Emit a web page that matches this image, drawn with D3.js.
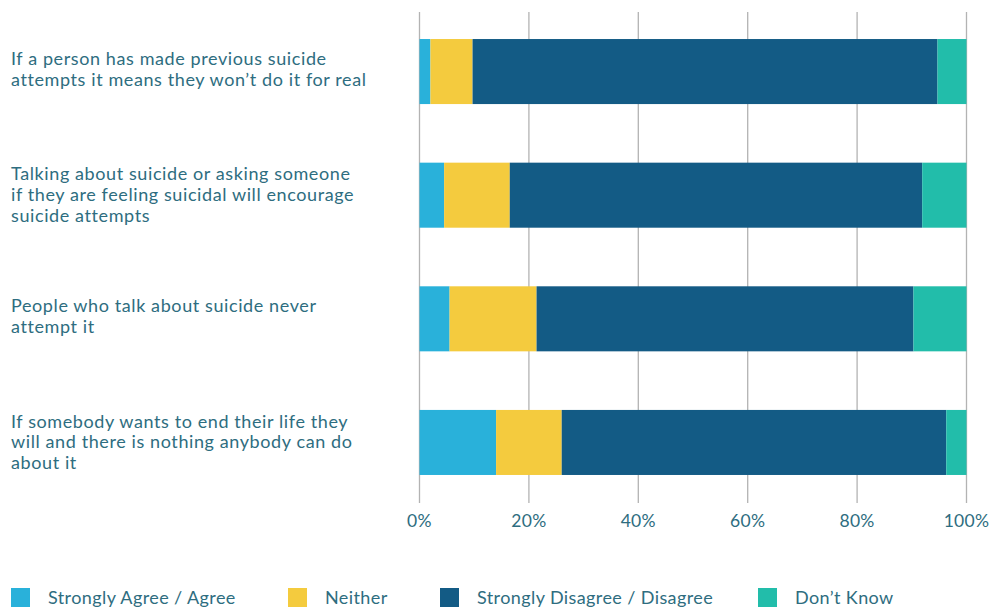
<!DOCTYPE html>
<meta charset='utf-8'>
<head>
    <title>Suicide myths</title>
    <script src='https://cdn.jsdelivr.net/npm/d3@7/dist/d3.min.js'></script>
</head>

<style>
    body { margin: 0; background: white; }
    text { font-family: Lato, 'Open Sans', sans-serif; fill: #2e6d80; }
    .grid line { stroke: #b3b3b3; stroke-width: 1.3px; }
</style>

<svg></svg>

<script>
    var vWidth = 999;
    var vHeight = 608;

    // Data
    var vCategories = [
        ['If a person has made previous suicide', 'attempts it means they won\u2019t do it for real'],
        ['Talking about suicide or asking someone', 'if they are feeling suicidal will encourage', 'suicide attempts'],
        ['People who talk about suicide never', 'attempt it'],
        ['If somebody wants to end their life they', 'will and there is nothing anybody can do', 'about it']
    ];
    var vSeries = ['Strongly Agree / Agree', 'Neither', 'Strongly Disagree / Disagree', 'Don\u2019t Know'];
    var vAgree = [2.0, 4.5, 5.5, 14.0];
    var vNeither = [7.7, 12.0, 15.9, 12.0];
    var vDisagree = [85.0, 75.4, 68.9, 70.3];
    var vDontKnow = [5.3, 8.1, 9.7, 3.7];
    var vTicks = [0, 20, 40, 60, 80, 100];
    var vColors = ['#29b1da', '#f4cb3e', '#135b85', '#22bdaa'];

    var svg = d3.select('svg').attr('width', vWidth).attr('height', vHeight);

    var x = d3.scaleLinear().domain([0, 100]).range([419.5, 966.5]);
    var y = d3.scaleBand().domain(d3.range(vCategories.length)).range([14.3, 499.7]).paddingInner(0.474).paddingOuter(0.2);

    // Rows for stacking
    var vRows = vCategories.map(function (c, i) {
        return { i: i, s0: vAgree[i], s1: vNeither[i], s2: vDisagree[i], s3: vDontKnow[i] };
    });
    var vStack = d3.stack().keys(['s0', 's1', 's2', 's3'])(vRows);

    // Gridlines
    svg.append('g').attr('class', 'grid')
        .selectAll('line').data(vTicks).enter().append('line')
        .attr('x1', function (d) { return x(d); })
        .attr('x2', function (d) { return x(d); })
        .attr('y1', 12).attr('y2', 503);

    // Bars
    svg.append('g').selectAll('g').data(vStack).enter().append('g')
        .attr('fill', function (d, k) { return vColors[k]; })
        .selectAll('rect').data(function (d) { return d; }).enter().append('rect')
        .attr('x', function (d) { return x(d[0]); })
        .attr('width', function (d) { return x(d[1]) - x(d[0]); })
        .attr('y', function (d) { return y(d.data.i); })
        .attr('height', y.bandwidth());

    // Tick labels
    svg.append('g').selectAll('text').data(vTicks).enter().append('text')
        .attr('x', function (d) { return x(d); })
        .attr('y', 527)
        .attr('text-anchor', 'middle')
        .style('font-size', '17.5px')
        .style('letter-spacing', '0.3px')
        .text(function (d) { return d + '%'; });

    // Category labels
    var lineH = 20.8;
    svg.append('g').selectAll('text').data(vCategories).enter().append('text')
        .style('font-size', '18px')
        .style('letter-spacing', '0.6px')
        .attr('transform', function (d, i) {
            var cy = y(i) + y.bandwidth() / 2 - (d.length - 1) * lineH / 2 - (d.length === 2 ? 2 : 0);
            return 'translate(11,' + (cy + 6) + ')';
        })
        .selectAll('tspan').data(function (d) { return d; }).enter().append('tspan')
        .attr('x', 0)
        .attr('dy', function (d, j) { return j === 0 ? 0 : lineH; })
        .text(function (d) { return d; });

    // Legend
    var vLegendX = [11, 288, 440, 758];
    var lg = svg.append('g').selectAll('g').data(vSeries).enter().append('g')
        .attr('transform', function (d, k) { return 'translate(' + vLegendX[k] + ',588)'; });
    lg.append('rect').attr('width', 19).attr('height', 19)
        .attr('fill', function (d, k) { return vColors[k]; });
    lg.append('text').attr('x', 37).attr('y', 15.5)
        .style('font-size', '18px')
        .style('letter-spacing', '0.4px')
        .text(function (d) { return d; });
</script>
